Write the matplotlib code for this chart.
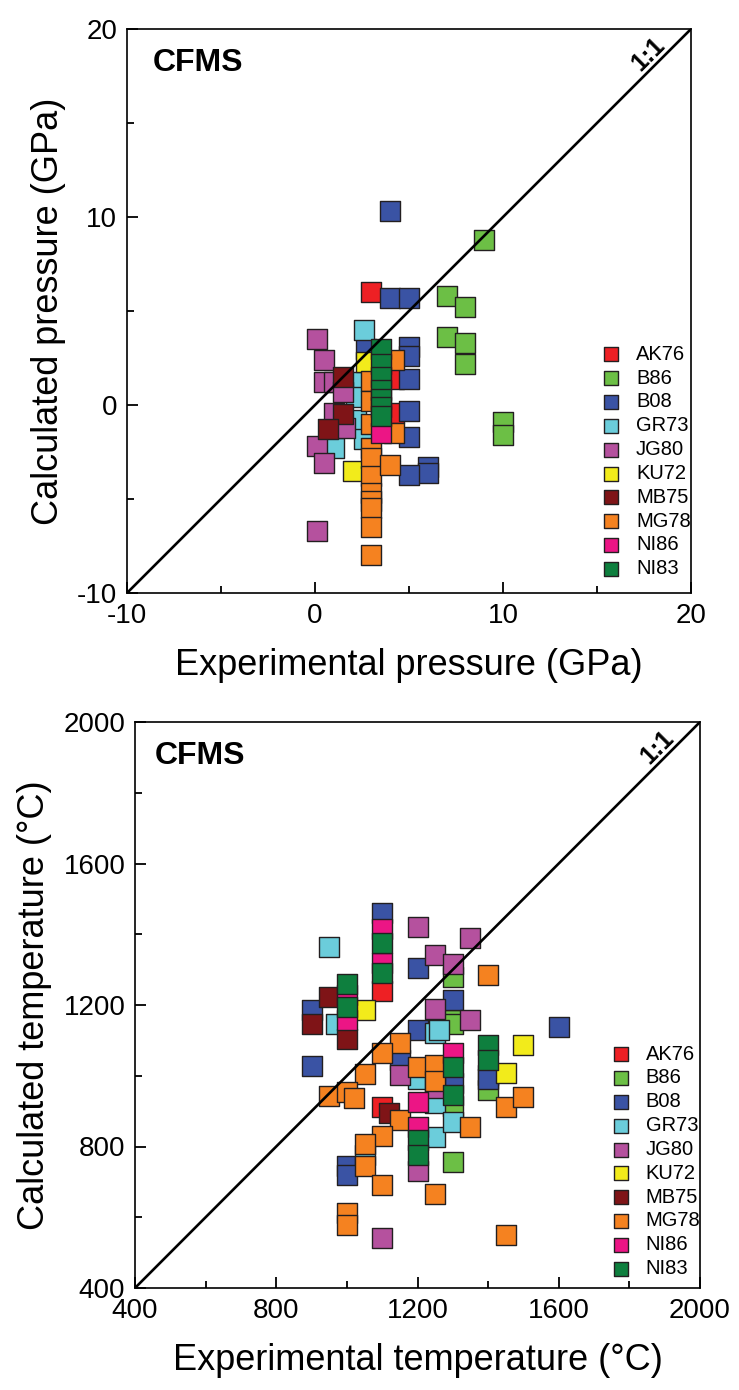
import matplotlib
matplotlib.use('Agg')
import matplotlib.pyplot as plt
from matplotlib.ticker import MultipleLocator
import numpy as np

plt.rcParams['font.family'] = ['Liberation Sans', 'DejaVu Sans']
plt.rcParams['axes.unicode_minus'] = False

# 数据集名称与颜色
labels = ['AK76', 'B86', 'B08', 'GR73', 'JG80', 'KU72', 'MB75', 'MG78', 'NI86', 'NI83']
colors = ['#EE2024', '#6CBF45', '#3A53A4', '#6BCDDB', '#B5519E',
          '#F2EB1B', '#7F1417', '#F58220', '#EC1585', '#0E7F3E']

# 压力 (GPa): 实验值 / 计算值
p_exp = {
    'AK76': [3, 4.2, 4.2],
    'B86': [9, 7, 8, 7, 8, 8, 10, 10],
    'B08': [4, 4, 5, 2.7, 5, 5, 5, 5, 5, 6, 6, 5],
    'GR73': [2.6, 2.2, 2.2, 2.2, 2.6, 1.0],
    'JG80': [0.1, 0.5, 0.5, 1.0, 1.5, 1.0, 1.6, 0.1, 0.5, 0.1],
    'KU72': [2.7, 2.0],
    'MB75': [1.5, 1.5, 0.7],
    'MG78': [3, 3, 3, 3, 3, 3, 3, 3, 3, 3, 3, 4.2, 4.2, 4],
    'NI86': [3.5],
    'NI83': [3.5, 3.5, 3.5, 3.5, 3.5, 3.5, 3.5],
}
p_calc = {
    'AK76': [6.0, 1.4, -0.4],
    'B86': [8.8, 5.8, 5.2, 3.6, 3.3, 2.2, -0.9, -1.6],
    'B08': [10.3, 5.7, 5.7, 3.0, 3.1, 2.6, 1.4, -0.3, -1.7, -3.3, -3.6, -3.7],
    'GR73': [4.0, 1.2, 0.4, -0.8, -1.8, -2.3],
    'JG80': [3.5, 2.4, 1.2, 1.2, 0.7, -0.4, -1.2, -2.2, -3.1, -6.7],
    'KU72': [2.3, -3.5],
    'MB75': [1.5, -0.5, -1.3],
    'MG78': [1.3, 0.2, -1.0, -2.3, -2.8, -3.8, -4.7, -5.1, -5.5, -6.5, -8.0, 2.4, -1.5, -3.2],
    'NI86': [-1.5],
    'NI83': [3.0, 2.2, 1.5, 0.8, 0.3, -0.1, -0.6],
}

# 温度 (°C): 实验值 / 计算值
t_exp = {
    'AK76': [1100, 1100],
    'B86': [1300, 1300, 1300, 1400, 1300, 1300],
    'B08': [1100, 1200, 900, 900, 1150, 1200, 1300, 1600, 1400, 1400, 1300, 1000, 1000],
    'GR73': [950, 970, 1250, 1260, 1250, 1250, 1300, 1050, 1200],
    'JG80': [1200, 1350, 1250, 1300, 1250, 1350, 1150, 1200, 1100, 1250],
    'KU72': [1050, 1500, 1450],
    'MB75': [950, 1000, 900, 1120],
    'MG78': [1400, 1150, 1100, 1050, 1200, 1250, 1250, 950, 1000, 1020, 1150, 1100,
             1050, 1050, 1100, 1250, 1350, 1450, 1500, 1000, 1000, 1450],
    'NI86': [1100, 1100, 1000, 1000, 1200, 1200, 1300],
    'NI83': [1100, 1100, 1000, 1000, 1200, 1200, 1400, 1400, 1300, 1300],
}
t_calc = {
    'AK76': [1240, 913],
    'B86': [1278, 1157, 1145, 960, 755, 915],
    'B08': [1460, 1305, 1185, 1028, 1045, 1129, 1215, 1137, 1002, 990, 979, 744, 720],
    'GR73': [1365, 1146, 1122, 1129, 924, 828, 868, 775, 990],
    'JG80': [1420, 1388, 1341, 1317, 1189, 1157, 1002, 730, 542, 966],
    'KU72': [1187, 1086, 1007],
    'MB75': [1223, 1105, 1145, 894],
    'MG78': [1284, 1092, 1063, 1006, 1026, 1030, 984, 943, 955, 937, 875, 830,
             807, 744, 692, 667, 856, 913, 939, 612, 579, 551],
    'NI86': [1415, 1320, 1228, 1157, 925, 856, 1063],
    'NI83': [1375, 1290, 1260, 1195, 819, 777, 1086, 1045, 1026, 946],
}

W, H = 739, 1390
fig = plt.figure(figsize=(W / 100, H / 100), dpi=100)


def panel(rect, xd, yd, lim, major, minor, xlabel, ylabel, cfms_x, leg_anchor):
    ax = fig.add_axes(rect)
    for lab, col in zip(labels, colors):
        ax.scatter(xd[lab], yd[lab], marker='s', s=190, facecolor=col,
                   edgecolor='#231F20', linewidth=1.0, label=lab, zorder=3)
    ax.plot(lim, lim, color='black', lw=1.9, zorder=5)
    ax.set_xlim(lim)
    ax.set_ylim(lim)
    ax.xaxis.set_major_locator(MultipleLocator(major))
    ax.xaxis.set_minor_locator(MultipleLocator(minor))
    ax.yaxis.set_major_locator(MultipleLocator(major))
    ax.yaxis.set_minor_locator(MultipleLocator(minor))
    ax.tick_params(which='both', direction='in', width=1.3, labelsize=20, pad=7)
    ax.tick_params(which='major', length=8)
    ax.tick_params(which='minor', length=5)
    for sp in ax.spines.values():
        sp.set_linewidth(1.2)
    ax.set_xlabel(xlabel, fontsize=26, labelpad=14)
    ax.set_ylabel(ylabel, fontsize=26, labelpad=8)
    ax.text(cfms_x, 0.94, 'CFMS', transform=ax.transAxes, fontsize=23,
            fontweight='bold', ha='left', va='center')
    ax.text(0.925, 0.955, '1:1', transform=ax.transAxes, fontsize=18,
            fontweight='bold', rotation=45, ha='center', va='center')
    ax.legend(loc='upper left', bbox_to_anchor=leg_anchor, frameon=False,
              fontsize=14.5, markerscale=0.68, handlelength=1.0,
              handletextpad=0.75, borderpad=0, labelspacing=0.24,
              scatterpoints=1)
    return ax


panel([127 / W, 1 - 593 / H, 564 / W, 564 / H], p_exp, p_calc, (-10, 20), 10, 5,
      'Experimental pressure (GPa)', 'Calculated pressure (GPa)', 0.045, (0.822, 0.458))
panel([135 / W, 1 - 1288 / H, 565 / W, 566 / H], t_exp, t_calc, (400, 2000), 400, 200,
      'Experimental temperature (°C)', 'Calculated temperature (°C)', 0.035, (0.824, 0.448))

fig.savefig('out.png', dpi=100, facecolor='white')
